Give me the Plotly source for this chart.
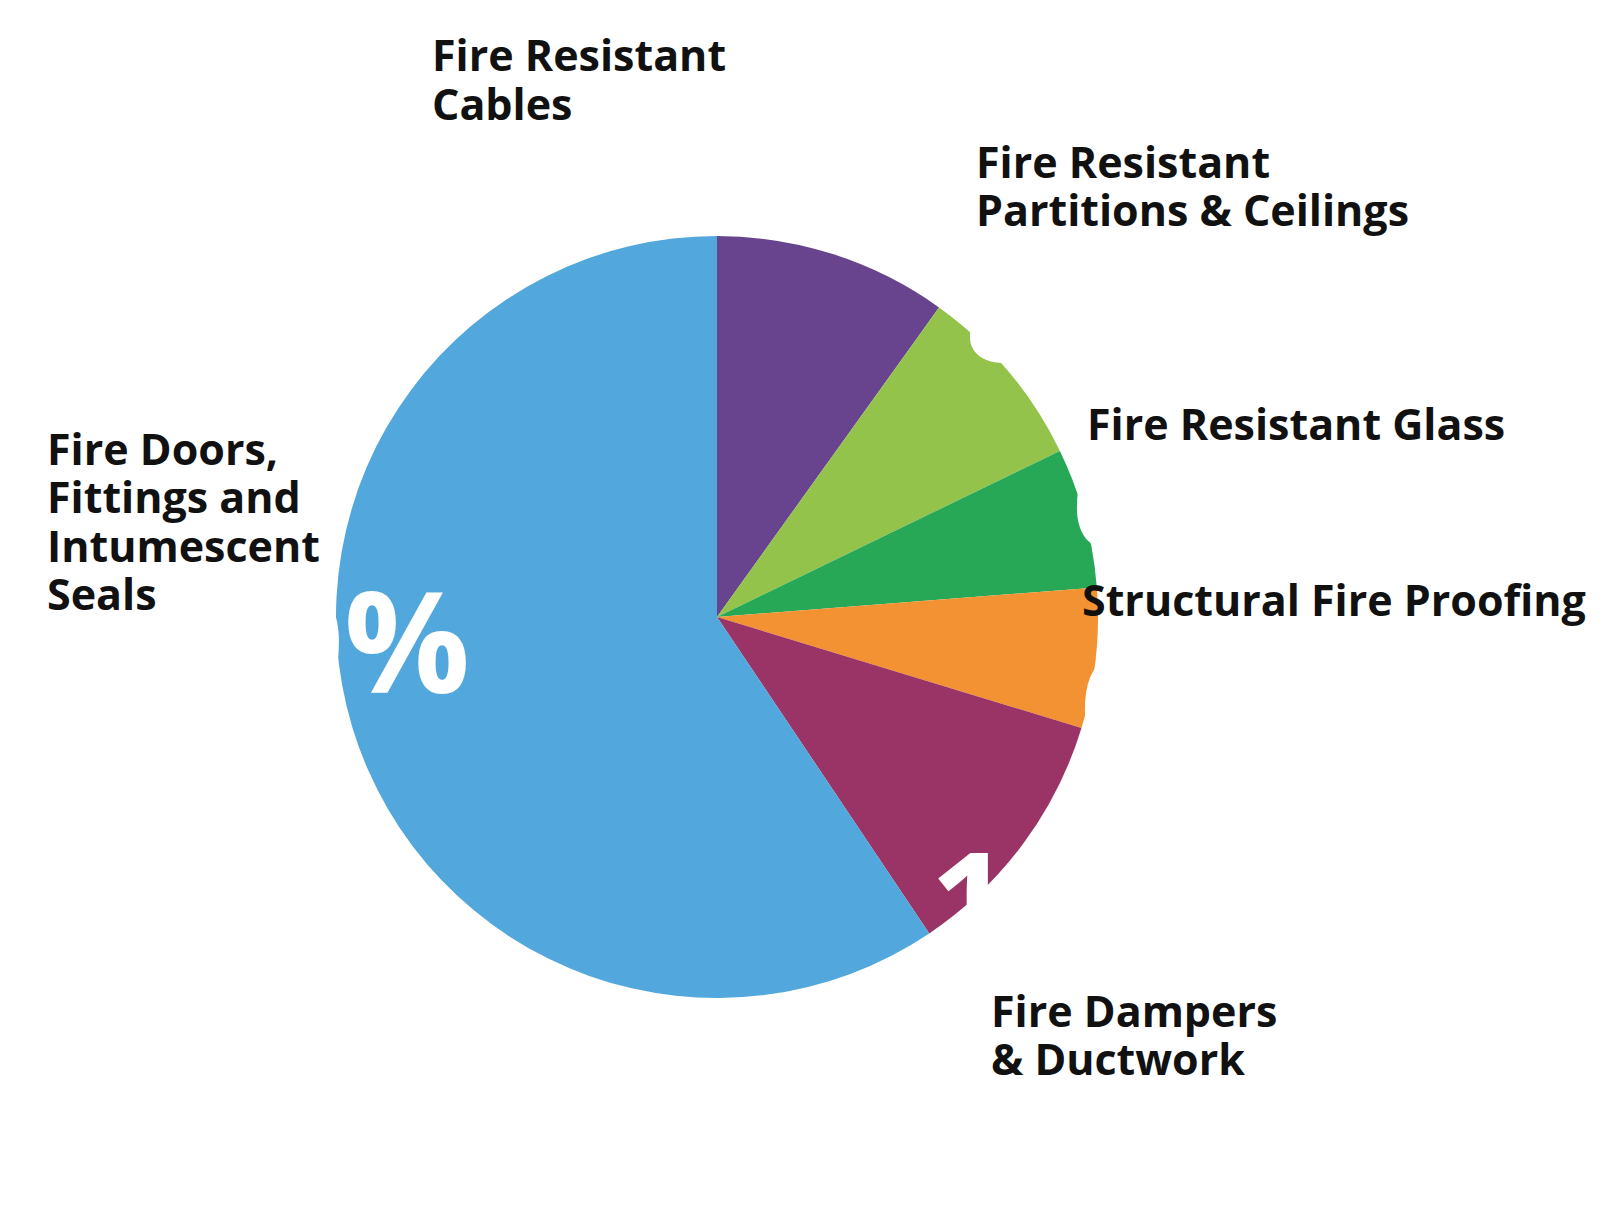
import plotly.graph_objects as go

# ---- data ----
categories = [
    "Fire Resistant Cables",
    "Fire Resistant Partitions & Ceilings",
    "Fire Resistant Glass",
    "Structural Fire Proofing",
    "Fire Dampers & Ductwork",
    "Fire Doors, Fittings and Intumescent Seals",
]
shares = [10, 8, 6, 6, 11, 60]
label_lines = [
    ["Fire Resistant", "Cables"],
    ["Fire Resistant", "Partitions & Ceilings"],
    ["Fire Resistant Glass"],
    ["Structural Fire Proofing"],
    ["Fire Dampers", "& Ductwork"],
    ["Fire Doors,", "Fittings and", "Intumescent", "Seals"],
]
colors = ["#67448D", "#93C34A", "#27A857", "#F39232", "#9A3466", "#52A8DC"]

# ---- layout (pixels) ----
W, H = 1624, 1230
OFF = 8  # page body margin
cx, cy, r = 717, 617, 381
FONT = "Open Sans"
LABEL_FS = 43
LINE_GAP = 48.5
# left x and first baseline of each outside label block
label_pos = [(430, 71.5), (974, 178), (1085, 440), (1080, 616), (989, 1027), (45, 465)]
# white percentage text (left x, baseline); None = not shown
PCT_FS = 140
pct_pos = [None, (963, 362), (1070, 550), (1078, 752), (928, 953), (182, 693)]


def px(x):
    return (x - OFF) / W


def py(y):
    return 1 - (y - OFF) / H


fig = go.Figure(
    go.Pie(
        labels=categories,
        values=shares,
        sort=False,
        direction="clockwise",
        rotation=0,
        marker=dict(colors=colors, line=dict(width=0)),
        textinfo="none",
        hoverinfo="label+percent",
        showlegend=False,
        domain=dict(x=[px(cx - r), px(cx + r)], y=[py(cy + r), py(cy - r)]),
    )
)

annotations = []
for lines, (lx, by) in zip(label_lines, label_pos):
    for i, line in enumerate(lines):
        b = by + i * LINE_GAP
        annotations.append(
            dict(
                text=line, xref="paper", yref="paper",
                x=px(lx), y=py(b - 0.388 * LABEL_FS),
                xanchor="left", yanchor="middle", showarrow=False,
                font=dict(family=FONT, size=LABEL_FS, color="#111111", weight="bold"),
            )
        )

for v, pos in zip(shares, pct_pos):
    if pos is None:
        continue
    lx, by = pos
    annotations.append(
        dict(
            text=f"{v}%", xref="paper", yref="paper",
            x=px(lx), y=py(by - 0.388 * PCT_FS),
            xanchor="left", yanchor="middle", showarrow=False,
            font=dict(family=FONT, size=PCT_FS, color="#FFFFFF", weight="bold"),
        )
    )

fig.update_layout(
    width=W, height=H,
    margin=dict(l=0, r=0, t=0, b=0),
    paper_bgcolor="white", plot_bgcolor="white",
    annotations=annotations,
)

fig.write_html("out.html")
